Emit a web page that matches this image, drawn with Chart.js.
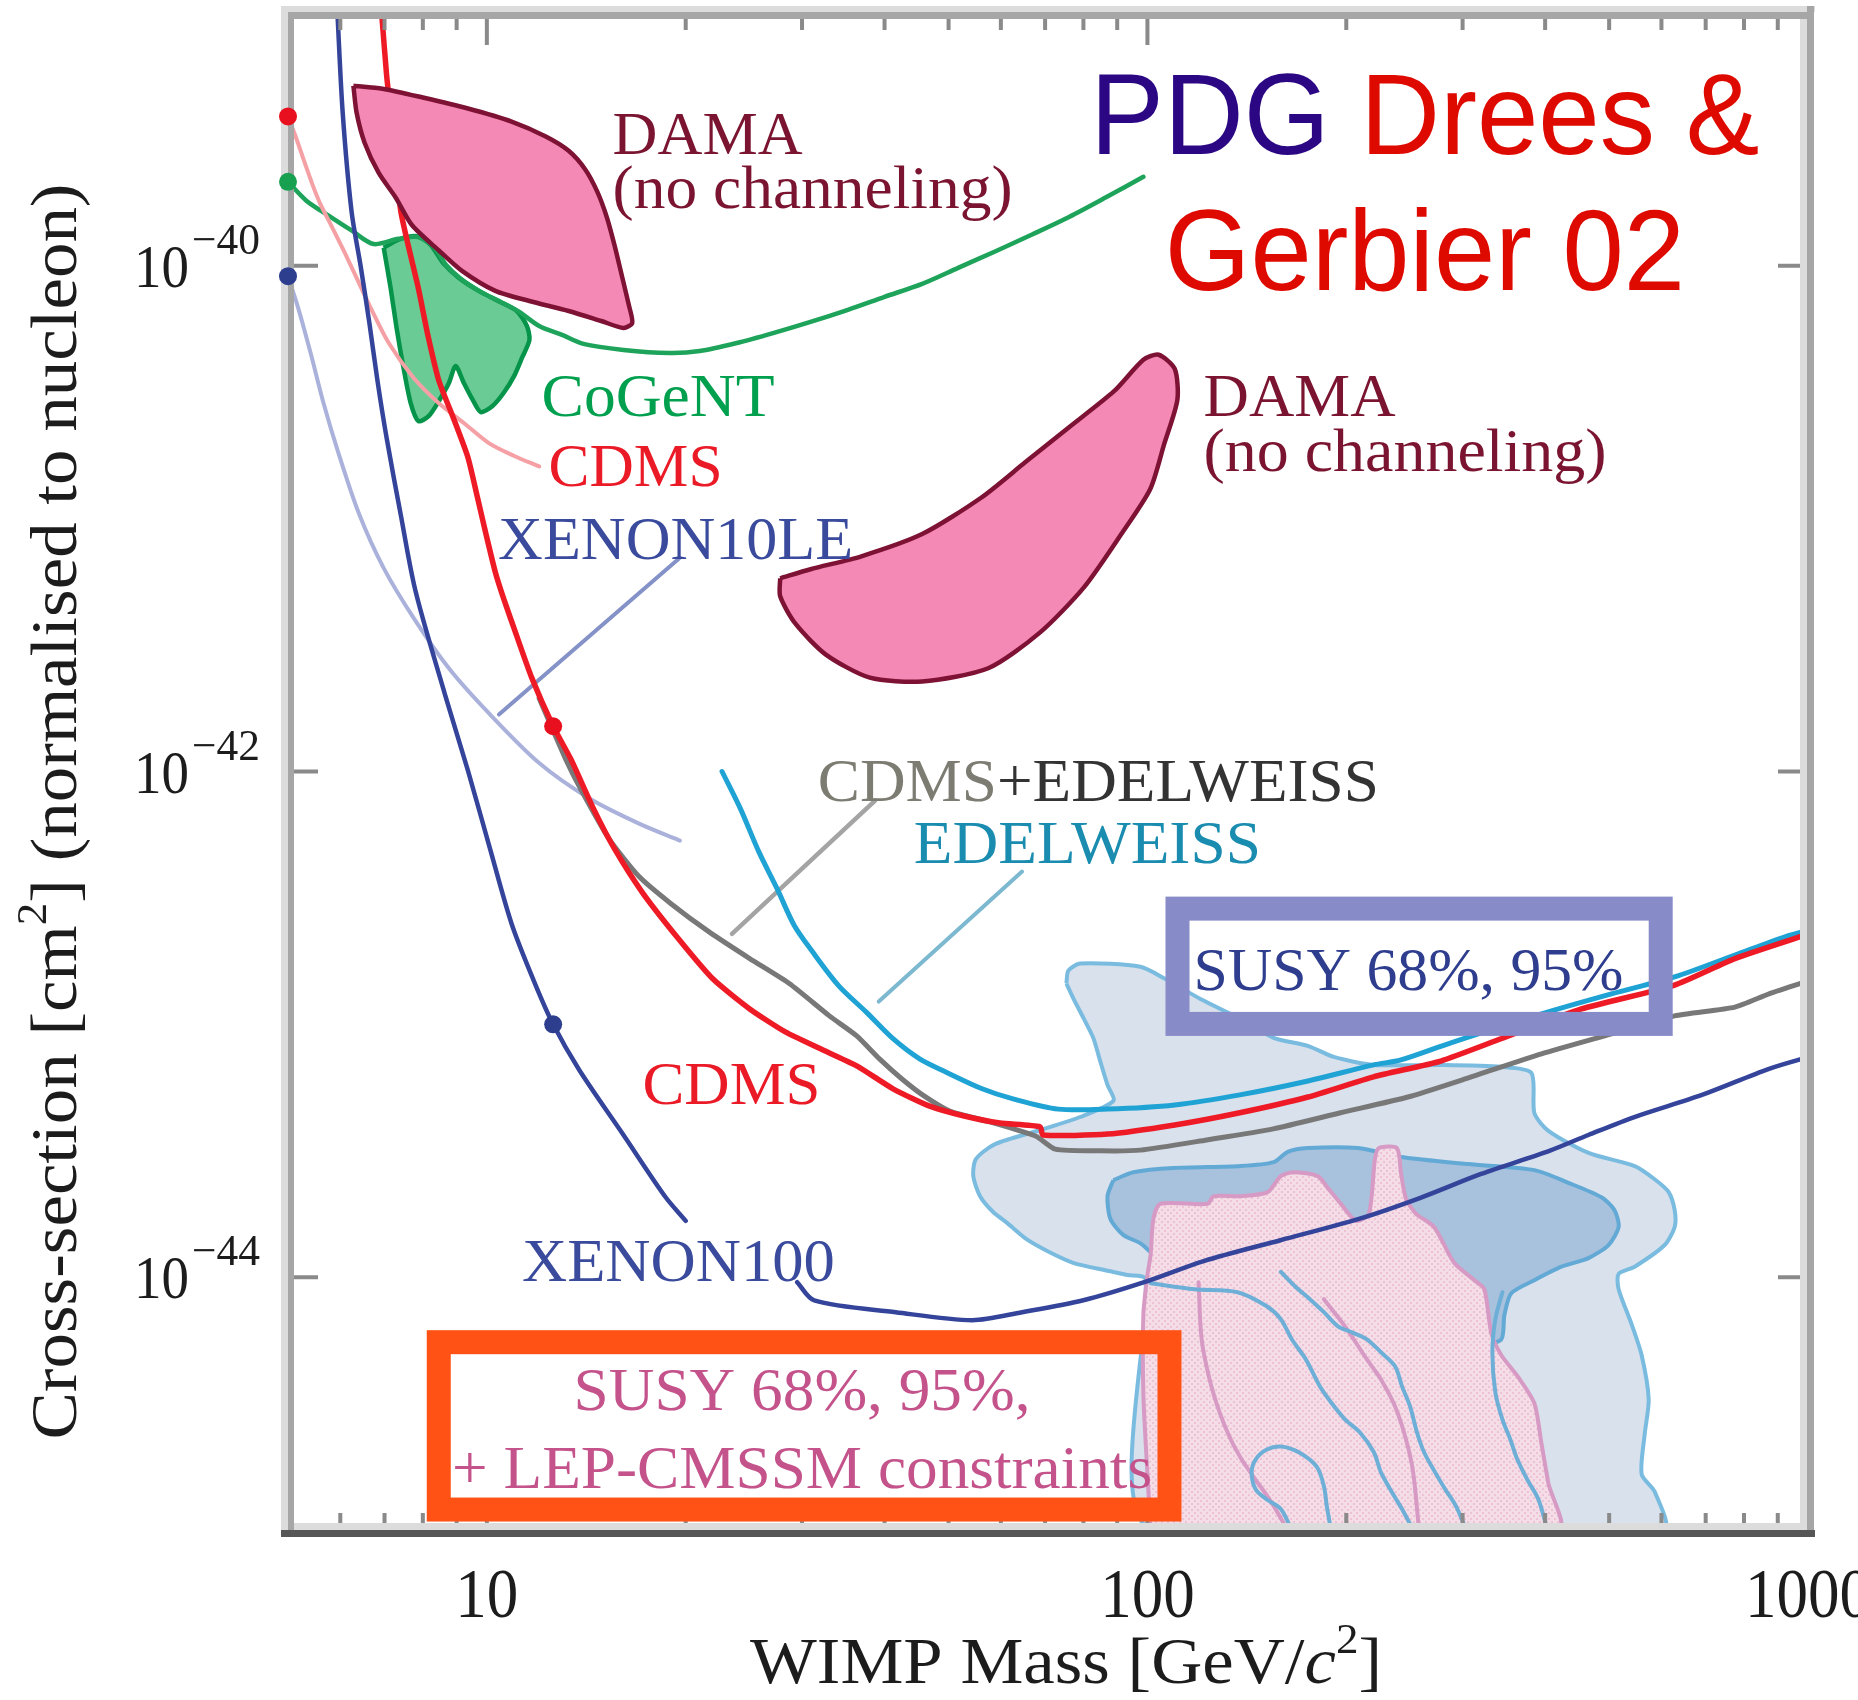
<!DOCTYPE html>
<html>
<head>
<meta charset="utf-8">
<script src="https://cdn.jsdelivr.net/npm/chart.js@4.4.1/dist/chart.umd.min.js"></script>
<style>
  html, body { margin: 0; padding: 0; background: #ffffff; }
  canvas { display: block; }
</style>
</head>
<body>
<canvas id="c" width="1858" height="1700"></canvas>
<script>
// ---- Axis ticks ----
const X_TICK_LABELS = [10, 100, 1000];
const Y_TICK_EXPONENTS = [-40, -42, -44];

// ---- Exclusion limits: [WIMP mass (GeV), cross-section (cm^2)] ----
const xenon100Upper = [[5.94,1.0e-39],[6.05,4.04e-40],[6.24,1.64e-40],[6.44,1.0e-40],[6.64,5.94e-41],[6.83,3.51e-41],[7.05,2.09e-41],[7.41,1.03e-41],[7.80,5.16e-42],[8.64,2.02e-42],[9.36,1.01e-42],[10.1,5.0e-43],[10.9,2.50e-43],[11.8,1.47e-43],[12.6,1.0e-43],[13.8,6.6e-44],[16.1,3.65e-44],[18.6,2.09e-44],[20.0,1.67e-44]];
const xenon100Lower = [[29.5,9.55e-45],[31.3,8.1e-45],[41.6,7.27e-45],[54.3,6.76e-45],[64.6,7.27e-45],[80.0,8.1e-45],[98.9,9.55e-45],[122,1.16e-44],[159,1.40e-44],[209,1.70e-44],[259,2.06e-44],[320,2.56e-44],[406,3.16e-44],[465,3.65e-44],[546,4.30e-44],[691,5.26e-44],[873,6.67e-44],[1014,7.50e-44]];
const xenon10LE = [[5.0,9.1e-41],[5.18,6.82e-41],[5.41,4.52e-41],[5.66,2.86e-41],[5.96,1.82e-41],[6.40,1.05e-41],[6.98,6.37e-42],[7.75,4.04e-42],[8.76,2.56e-42],[10.07,1.70e-42],[12.0,1.08e-42],[14.3,7.82e-43],[17.0,6.22e-43],[19.6,5.33e-43]];
const cdms = [[6.93,1e-39],[7.05,5.70e-40],[7.17,3.78e-40],[7.41,1.64e-40],[7.88,8.11e-41],[8.14,5.33e-41],[8.46,3.51e-41],[8.91,2.48e-41],[9.36,1.75e-41],[9.66,1.24e-41],[9.97,8.69e-42],[10.3,6.14e-42],[10.6,4.84e-42],[11.1,3.43e-42],[11.7,2.34e-42],[12.6,1.51e-42],[13.4,1.12e-42],[14.5,7.13e-43],[15.6,4.95e-43],[17.2,3.32e-43],[19.5,2.18e-43],[22.0,1.51e-43],[25.0,1.15e-43],[28.3,9.33e-44],[32.0,8.0e-44],[36.3,6.85e-44],[41.2,5.56e-44],[46.7,4.76e-44],[52.8,4.34e-44],[59.8,4.07e-44],[68.8,3.93e-44],[69.5,3.65e-44],[87.0,3.68e-44],[110,4.0e-44],[138,4.47e-44],[175,5.16e-44],[220,6.2e-44],[278,7.16e-44],[343,8.77e-44],[454,1.15e-43],[628,1.43e-43],[775,1.82e-43],[1014,2.30e-43]];
const cdmsLowThreshold = [[5.0,3.89e-40],[5.13,3.27e-40],[5.28,2.63e-40],[5.44,2.11e-40],[5.60,1.75e-40],[5.84,1.41e-40],[6.07,1.15e-40],[6.35,8.96e-41],[6.67,6.82e-41],[7.10,4.96e-41],[7.75,3.6e-41],[8.46,2.86e-41],[9.23,2.39e-41],[10.07,1.99e-41],[11.0,1.77e-41],[12.0,1.61e-41]];
const cdmsEdelweiss = [[12.0,1.95e-42],[12.6,1.45e-42],[13.2,1.1e-42],[13.8,8.73e-43],[15.3,5.43e-43],[17.0,3.84e-43],[19.0,3.0e-43],[21.7,2.32e-43],[25.0,1.82e-43],[28.7,1.45e-43],[33.0,1.08e-43],[36.3,9.0e-44],[39.3,7.3e-44],[42.5,6.08e-44],[45.9,5.21e-44],[50.2,4.54e-44],[57.8,4.11e-44],[67.8,3.61e-44],[72.5,3.21e-44],[84.9,3.16e-44],[97.6,3.18e-44],[123,3.49e-44],[155,3.86e-44],[196,4.47e-44],[248,5.16e-44],[306,6.14e-44],[395,7.64e-44],[504,9.16e-44],[628,1.08e-43],[775,1.17e-43],[873,1.32e-43],[1014,1.50e-43]];
const edelweiss = [[22.7,1.0e-42],[24.2,7.13e-43],[25.8,4.82e-43],[27.5,3.44e-43],[29.2,2.46e-43],[31.1,1.94e-43],[34.1,1.42e-43],[37.5,1.12e-43],[41.2,8.77e-44],[45.2,7.3e-44],[49.5,6.48e-44],[56.2,5.56e-44],[62.6,5.07e-44],[73.3,4.62e-44],[87.0,4.62e-44],[110,4.8e-44],[138,5.26e-44],[175,5.97e-44],[220,6.91e-44],[242,7.23e-44],[288,8.45e-44],[395,1.10e-43],[504,1.32e-43],[628,1.54e-43],[775,1.88e-43],[923,2.22e-43],[1014,2.37e-43]];
const cogentLimit = [[5.0,2.15e-40],[5.33,1.81e-40],[5.76,1.58e-40],[6.24,1.38e-40],[6.74,1.22e-40],[7.35,1.28e-40],[7.88,1.30e-40],[8.31,1.19e-40],[8.67,1.01e-40],[9.13,8.89e-41],[9.79,7.89e-41],[10.5,7.20e-41],[11.2,6.57e-41],[12.0,5.78e-41],[13.0,5.33e-41],[14.0,4.91e-41],[16.1,4.65e-41],[18.9,4.52e-41],[21.0,4.60e-41],[23.9,4.95e-41],[27.2,5.43e-41],[30.9,6.0e-41],[35.2,6.70e-41],[40.0,7.54e-41],[45.6,8.49e-41],[51.7,9.82e-41],[58.8,1.14e-40],[66.9,1.33e-40],[76.1,1.56e-40],[86.7,1.87e-40],[98.6,2.25e-40]];

// ---- Signal regions ----
const cogentRegion = [[6.98,1.18e-40],[7.35,1.27e-40],[7.83,1.31e-40],[8.22,1.21e-40],[8.60,1.02e-40],[9.07,8.96e-41],[9.72,7.96e-41],[10.4,7.26e-41],[11.1,6.63e-41],[11.5,5.78e-41],[11.6,5.09e-41],[11.3,4.32e-41],[11.0,3.67e-41],[10.6,3.14e-41],[10.2,2.79e-41],[9.79,2.64e-41],[9.52,2.95e-41],[9.23,3.44e-41],[8.97,4.02e-41],[8.76,3.44e-41],[8.46,2.92e-41],[8.17,2.55e-41],[7.88,2.43e-41],[7.67,2.86e-41],[7.48,3.94e-41],[7.30,5.68e-41],[7.15,8.18e-41]];
const damaLowMass = [[6.28,5.16e-40],[6.95,5.02e-40],[8.0,4.63e-40],[9.36,4.19e-40],[10.9,3.72e-40],[12.3,3.24e-40],[13.3,2.85e-40],[14.1,2.40e-40],[14.7,1.96e-40],[15.2,1.55e-40],[15.6,1.21e-40],[16.0,9.2e-41],[16.4,7.01e-41],[16.6,5.94e-41],[16.1,5.68e-41],[14.9,6.05e-41],[13.3,6.63e-41],[11.6,7.26e-41],[10.3,7.96e-41],[9.17,9.55e-41],[8.46,1.15e-40],[7.70,1.45e-40],[7.28,1.86e-40],[6.86,2.33e-40],[6.53,3.07e-40],[6.35,4.04e-40]];
const damaHighMass = [[27.8,5.81e-42],[30.9,6.31e-42],[36.9,7.1e-42],[45.6,8.69e-42],[56.0,1.21e-41],[65.3,1.67e-41],[76.1,2.30e-41],[89.1,3.20e-41],[98.6,4.25e-41],[104,4.45e-41],[110,3.91e-41],[111,2.95e-41],[106,1.97e-41],[101,1.31e-41],[91.3,8.69e-42],[80.2,5.36e-42],[68.8,3.55e-42],[57.4,2.56e-42],[45.6,2.27e-42],[38.0,2.35e-42],[32.6,2.90e-42],[29.3,3.85e-42],[27.8,4.93e-42]];
const susy95 = [[75.4,1.45e-43],[75.9,1.63e-43],[79.1,1.74e-43],[97.6,1.69e-43],[106.5,1.51e-43],[120.3,1.26e-43],[138.4,1.05e-43],[155.3,8.84e-44],[174.9,8.22e-44],[191.5,7.43e-44],[220.2,6.91e-44],[278.3,6.91e-44],[343.4,6.79e-44],[381.3,6.43e-44],[385.3,4.46e-44],[404.6,3.79e-44],[465.3,3.10e-44],[546.6,2.75e-44],[585.9,2.44e-44],[615.3,2.17e-44],[628.3,1.84e-44],[628.3,1.58e-44],[606.7,1.34e-44],[546.6,1.10e-44],[516.8,1.03e-44],[516.8,8.96e-45],[540.8,6.51e-45],[560.0,4.91e-45],[573.9,3.29e-45],[565.9,2.39e-45],[560.0,1.66e-45],[585.9,1.42e-45],[604.6,1.0e-45],[101.1,1.0e-45],[99.3,9.82e-45],[93.3,1.02e-44],[87.0,1.06e-44],[77.2,1.14e-44],[70.5,1.27e-44],[65.7,1.41e-44],[61.3,1.64e-44],[58.4,1.81e-44],[55.8,2.09e-44],[54.5,2.51e-44],[55.0,2.93e-44],[58.8,3.36e-44],[68.8,3.82e-44],[79.1,4.30e-44],[88.8,4.98e-44],[87.0,5.76e-44],[84.8,7.17e-44],[82.8,8.84e-44],[80.0,1.06e-43],[77.2,1.27e-43]];
const susy68 = [[88.8,2.42e-44],[95.2,2.60e-44],[109.5,2.70e-44],[138.4,2.75e-44],[155.3,2.85e-44],[163.1,3.13e-44],[174.9,3.24e-44],[208.3,3.24e-44],[242.1,2.99e-44],[305.9,2.80e-44],[385.3,2.65e-44],[433.9,2.36e-44],[486.9,2.07e-44],[509.5,1.84e-44],[516.8,1.58e-44],[498.9,1.34e-44],[465.3,1.19e-44],[423.5,1.10e-44],[385.3,9.73e-45],[355.5,8.64e-45],[347.0,7.07e-45],[343.4,5.68e-45],[320.2,5.43e-45],[104.6,1.18e-44],[97.6,1.36e-44],[91.9,1.47e-44],[87.9,1.70e-44],[87.0,2.09e-44]];
const susyLep = [[101.1,1e-45],[100.0,1.67e-45],[98.6,3.44e-45],[98.6,7.14e-45],[100.0,1.02e-44],[101.1,1.22e-44],[102.1,1.70e-44],[104.6,1.95e-44],[123.3,1.95e-44],[126.0,2.09e-44],[138.4,2.09e-44],[152.1,2.17e-44],[159.2,2.51e-44],[166.6,2.60e-44],[181.1,2.51e-44],[187.6,2.25e-44],[196.3,1.95e-44],[206.8,1.67e-44],[216.4,1.78e-44],[221.0,2.93e-44],[224.1,3.24e-44],[238.6,3.24e-44],[242.1,2.56e-44],[246.3,2.04e-44],[255.1,1.78e-44],[271.6,1.58e-44],[291.3,1.14e-44],[312.5,9.73e-45],[323.6,8.96e-45],[331.6,6.0e-45],[343.4,4.91e-45],[364.3,4.02e-45],[385.3,3.17e-45],[394.9,2.20e-45],[404.6,1.53e-45],[419.0,1e-45]];
const susyContourA = [[101.1,9.47e-45],[117.9,8.96e-45],[136.9,8.72e-45],[151.6,7.67e-45],[159.2,6.82e-45],[165.4,5.68e-45],[173.7,4.73e-45],[182.4,3.70e-45],[189.6,3.20e-45],[199.1,2.74e-45],[209.8,2.43e-45],[220.2,2.03e-45],[225.7,1.69e-45],[234.5,1.41e-45],[242.9,1.21e-45],[252.5,1.0e-45]];
const susyContourB = [[159.2,1.05e-44],[167.2,9.21e-45],[176.2,8.18e-45],[185.0,7.27e-45],[194.3,6.39e-45],[204.1,6.05e-45],[214.9,5.68e-45],[225.7,5.05e-45],[237.1,4.44e-45],[242.9,3.70e-45],[249.8,3.08e-45],[255.9,2.43e-45],[262.3,2.03e-45],[272.6,1.69e-45],[282.3,1.45e-45],[293.3,1.24e-45],[303.8,1.0e-45]];
const susyContourC = [[344.6,8.72e-45],[336.3,6.82e-45],[332.8,5.05e-45],[336.3,3.50e-45],[344.6,2.74e-45],[354.3,2.28e-45],[363.1,1.90e-45],[376.0,1.58e-45],[390.8,1.32e-45],[403.2,1.0e-45]];
const susyContourLoop = [[165.4,1e-45],[159.2,1.21e-45],[151.6,1.32e-45],[145.8,1.45e-45],[143.8,1.69e-45],[145.8,1.90e-45],[151.6,2.08e-45],[159.2,2.14e-45],[169.5,2.03e-45],[180.4,1.78e-45],[185.0,1.49e-45],[186.9,1.24e-45],[189.6,1e-45]];
const lepContourA = [[119.5,9.55e-45],[120.8,5.68e-45],[124.2,3.94e-45],[128.6,2.92e-45],[133.7,2.28e-45],[138.9,1.90e-45],[145.8,1.58e-45],[153.1,1.32e-45],[163.1,1e-45]];
const lepContourB = [[185.0,8.18e-45],[199.1,6.39e-45],[214.9,4.73e-45],[225.7,3.94e-45],[237.1,3.08e-45],[246.3,2.28e-45],[252.5,1.69e-45],[257.7,1e-45]];

// ---- Marker points and label leader lines ----
const markerPoints = [[5.0,3.9e-40],[5.0,2.15e-40],[5.0,9.1e-41],[12.6,1.51e-42],[12.6,1.0e-43]];
const markerColors = ['#e8101e','#17a04f','#2e3e8e','#e8101e','#2e3e8e'];
const leaderXenon10LE = [[10.43,1.68e-42],[19.56,6.98e-42]];
const leaderCombined = [[23.5,2.28e-43],[38.7,7.67e-43]];
const leaderEdelweiss = [[39.2,1.23e-43],[64.6,4.02e-43]];

// ---- In-plot annotations ----
const noteText = [['DAMA'],['(no channeling)'],['DAMA'],['(no channeling)'],['CoGeNT'],['CDMS'],['XENON10LE'],['CDMS','+EDELWEISS'],['EDELWEISS'],['CDMS'],['XENON100']];
const noteMass = [15.5, 15.5, 121.6, 121.6, 12.1, 12.4, 10.4, 31.7, 44.3, 17.2, 11.3];
const noteSigma = [2.78e-40, 1.70e-40, 2.55e-41, 1.54e-41, 2.55e-41, 1.35e-41, 6.92e-42, 7.67e-43, 4.33e-43, 4.84e-44, 9.64e-45];
const noteColor = [['#7a1430'],['#7a1430'],['#7a1430'],['#7a1430'],['#00a04e'],['#ea1a26'],['#3a4a9c'],['#7c7c72','#333333'],['#1a8cb0'],['#ea1a26'],['#3a4a9c']];
const noteWidth = [190, 400, 192, 403, 233, 174, 355, 561, 347, 178, 313];

const susyBoxMass = [106.5, 624];
const susyBoxSigma = [3.20e-43, 9.0e-44];
const susyBoxText = 'SUSY 68%, 95%';
const susyBoxTextAt = [117.4, 1.37e-43];

const lepBoxMass = [8.11, 112.6];
const lepBoxSigma = [6.17e-45, 1.08e-45];
const lepBoxLines = ['SUSY 68%, 95%,', '+ LEP-CMSSM constraints'];
const lepBoxLineAt = [[30.0, 2.97e-45], [30.0, 1.47e-45]];

const headline = [[['PDG ', '#2b0784'], ['Drees &', '#de0a00']], [['Gerbier 02', '#de0a00']]];
const headlineAt = [[263, 2.78e-40], [263, 8.03e-41]];

const SERIF = '"Liberation Serif", "Times New Roman", Times, serif';
const SANS = '"Liberation Sans", Arial, Helvetica, sans-serif';

// ---- helpers ----
const pts = arr => arr.map(([x, y]) => ({ x, y }));
const closed = arr => pts(arr.concat([arr[0]]));

function curve(label, arr, color, width, order, extra) {
  return Object.assign({
    label, data: pts(arr), borderColor: color, borderWidth: width, order,
    showLine: true, pointRadius: 0, pointHoverRadius: 0, fill: false, tension: 0.3,
    borderCapStyle: 'round', borderJoinStyle: 'round'
  }, extra || {});
}
function area(label, arr, fillStyle, edge, width, order) {
  return {
    label, data: closed(arr), backgroundColor: fillStyle, borderColor: edge, borderWidth: width, order,
    showLine: true, pointRadius: 0, pointHoverRadius: 0, fill: 'shape', tension: 0.25,
    borderJoinStyle: 'round'
  };
}

const canvas = document.getElementById('c');
const baseCtx = canvas.getContext('2d');

// stippled pink fill for the LEP-constrained region
const tile = document.createElement('canvas');
tile.width = 6; tile.height = 6;
const tg = tile.getContext('2d');
tg.fillStyle = '#f5dde7'; tg.fillRect(0, 0, 6, 6);
tg.fillStyle = '#ecc2d4'; tg.fillRect(0, 0, 2, 2); tg.fillRect(3, 3, 2, 2);
const lepPattern = baseCtx.createPattern(tile, 'repeat');

// text drawn with a horizontal squeeze to a target width
function rich(ctx, parts, x, y, align, width, rot) {
  ctx.save();
  let total = 0;
  parts.forEach(p => { ctx.font = p.font; p.w = ctx.measureText(p.t).width; total += p.w; });
  const k = width ? width / total : 1;
  ctx.translate(x, y);
  if (rot) ctx.rotate(rot);
  ctx.scale(k, 1);
  let cx = align === 'center' ? -total / 2 : align === 'right' ? -total : 0;
  ctx.textAlign = 'left';
  ctx.textBaseline = 'alphabetic';
  parts.forEach(p => {
    ctx.font = p.font; ctx.fillStyle = p.color || '#1c1c1c';
    ctx.fillText(p.t, cx, p.dy || 0);
    cx += p.w;
  });
  ctx.restore();
}

function drawFrame(chart) {
  const { ctx, chartArea: a, scales: { x, y } } = chart;
  const L = a.left, R = a.right, T = a.top, B = a.bottom;
  ctx.save();
  ctx.strokeStyle = '#8a8a8a';
  ctx.lineWidth = 4;
  for (let d = 1; d <= 100; d *= 10) {
    for (let k = 1; k <= 9; k++) {
      const v = k * d;
      if (v <= 5 || v >= 1000) continue;
      const px = x.getPixelForValue(v);
      const len = k === 1 ? 32 : 17;
      ctx.beginPath();
      ctx.moveTo(px, B); ctx.lineTo(px, B - len);
      ctx.moveTo(px, T); ctx.lineTo(px, T + len);
      ctx.stroke();
    }
  }
  Y_TICK_EXPONENTS.forEach(e => {
    const py = y.getPixelForValue(Math.pow(10, e));
    ctx.beginPath();
    ctx.moveTo(L, py); ctx.lineTo(L + 30, py);
    ctx.moveTo(R, py); ctx.lineTo(R - 30, py);
    ctx.stroke();
  });
  ctx.fillStyle = '#dcdcdc';
  ctx.fillRect(L - 7, T - 7, 7, B - T + 14);
  ctx.fillRect(L - 7, T - 7, R - L + 14, 6);
  ctx.fillRect(R - 8, T, 7, B - T);
  ctx.fillRect(L, B - 7, R - L, 7);
  ctx.fillStyle = '#a6a6a6';
  ctx.fillRect(L, T - 1, 6, B - T + 1);
  ctx.fillRect(L, T - 1, R - L, 7);
  ctx.fillRect(R - 1, T - 7, 7, B - T + 14);
  ctx.fillStyle = '#565656';
  ctx.fillRect(L - 7, B, R - L + 14, 7);
  ctx.restore();
}

function boxAt(ctx, x, y, mPair, sPair, color, lw) {
  const x1 = x.getPixelForValue(mPair[0]), x2 = x.getPixelForValue(mPair[1]);
  const y1 = y.getPixelForValue(sPair[0]), y2 = y.getPixelForValue(sPair[1]);
  ctx.save();
  ctx.strokeStyle = color; ctx.lineWidth = lw; ctx.lineJoin = 'miter';
  ctx.strokeRect(x1 + lw / 2, y1 + lw / 2, (x2 - x1) - lw, (y2 - y1) - lw);
  ctx.restore();
}

const decor = {
  id: 'decor',
  beforeDatasetDraw(chart, args) {
    if (chart.data.datasets[args.index].label === 'markers') drawFrame(chart);
  },
  afterDatasetsDraw(chart) {
    const { ctx, chartArea: a, scales: { x, y } } = chart;

    // labels beside curves and regions
    noteText.forEach((parts, i) => {
      rich(ctx, parts.map((t, j) => ({ t, font: '62px ' + SERIF, color: noteColor[i][j] })),
        x.getPixelForValue(noteMass[i]), y.getPixelForValue(noteSigma[i]), 'left', noteWidth[i]);
    });

    // framed legends
    boxAt(ctx, x, y, susyBoxMass, susyBoxSigma, '#878bc8', 24);
    rich(ctx, [{ t: susyBoxText, font: '62px ' + SERIF, color: '#2e3d8e' }],
      x.getPixelForValue(susyBoxTextAt[0]), y.getPixelForValue(susyBoxTextAt[1]), 'left', 430);
    boxAt(ctx, x, y, lepBoxMass, lepBoxSigma, '#ff5214', 24);
    lepBoxLines.forEach((t, i) => {
      rich(ctx, [{ t, font: '62px ' + SERIF, color: '#c4528b' }],
        x.getPixelForValue(lepBoxLineAt[i][0]), y.getPixelForValue(lepBoxLineAt[i][1]), 'center', i === 0 ? 457 : 700);
    });

    // headline
    headline.forEach((line, i) => {
      rich(ctx, line.map(([t, c]) => ({ t, font: '115px ' + SANS, color: c })),
        x.getPixelForValue(headlineAt[i][0]), y.getPixelForValue(headlineAt[i][1]), 'center', i === 0 ? 669 : 520);
    });

    // tick labels
    X_TICK_LABELS.forEach(v => {
      rich(ctx, [{ t: String(v), font: '70px ' + SERIF, color: '#1c1c1c' }],
        x.getPixelForValue(v), 1617, 'center', String(v).length * 31.5);
    });
    Y_TICK_EXPONENTS.forEach(e => {
      const py = y.getPixelForValue(Math.pow(10, e));
      rich(ctx, [{ t: '10', font: '62px ' + SERIF, color: '#1c1c1c' }], a.left - 99, py + 21, 'right', 55);
      rich(ctx, [{ t: '\u2212' + (-e), font: '44px ' + SERIF, color: '#1c1c1c' }], a.left - 96, py - 12, 'left', 68);
    });

    // axis titles
    rich(ctx, [
      { t: 'WIMP Mass [GeV/', font: '66px ' + SERIF },
      { t: 'c', font: 'italic 66px ' + SERIF },
      { t: '2', font: '42px ' + SERIF, dy: -30 },
      { t: ']', font: '66px ' + SERIF }
    ], (a.left + a.right) / 2 + 18, 1683, 'center', 632);
    rich(ctx, [
      { t: 'Cross-section [cm', font: '66px ' + SERIF },
      { t: '2', font: '42px ' + SERIF, dy: -30 },
      { t: '] (normalised to nucleon)', font: '66px ' + SERIF }
    ], 76, (a.top + a.bottom) / 2 + 40, 'center', 1256, -Math.PI / 2);
  }
};

const datasets = [
  { label: 'markers', data: pts(markerPoints), showLine: false, pointRadius: 9, pointHoverRadius: 9,
    pointBackgroundColor: markerColors, pointBorderWidth: 0, clip: false, order: 0 },
  area('DAMA low', damaLowMass, '#f589b5', '#7d1234', 4.5, 1),
  area('DAMA high', damaHighMass, '#f589b5', '#7d1234', 4.5, 1),
  curve('XENON100 upper', xenon100Upper, '#34449a', 4.5, 2),
  curve('XENON100 lower', xenon100Lower, '#34449a', 4.5, 2),
  curve('CDMS', cdms, '#ee1b26', 5.5, 3, { tension: 0.2 }),
  curve('EDELWEISS', edelweiss, '#1fa2d4', 5, 4),
  curve('CDMS+EDELWEISS', cdmsEdelweiss, '#787878', 5, 5, { tension: 0.2 }),
  curve('XENON10LE', xenon10LE, '#aab2dc', 4, 6),
  curve('CDMS low threshold', cdmsLowThreshold, '#f5a0a5', 4, 6),
  curve('leader XENON10LE', leaderXenon10LE, '#8592c8', 4, 6, { tension: 0 }),
  curve('leader CDMS+EDELWEISS', leaderCombined, '#a4a4a4', 4.5, 6, { tension: 0 }),
  curve('leader EDELWEISS', leaderEdelweiss, '#7cb8d0', 4, 6, { tension: 0 }),
  curve('CoGeNT limit', cogentLimit, '#1ea35a', 4.5, 7),
  area('CoGeNT', cogentRegion, '#6acb95', '#06944a', 4.5, 8),
  curve('contour A', susyContourA, '#6eafd8', 4, 9),
  curve('contour B', susyContourB, '#6eafd8', 4, 9),
  curve('contour C', susyContourC, '#6eafd8', 4, 9),
  curve('contour loop', susyContourLoop, '#6eafd8', 4, 9),
  curve('LEP contour A', lepContourA, '#d69ac4', 4, 9),
  curve('LEP contour B', lepContourB, '#d69ac4', 4, 9),
  area('SUSY + LEP', susyLep, lepPattern, '#d69ac4', 4, 10),
  area('SUSY 68%', susy68, '#a8c1dd', '#62a9d5', 4, 11),
  area('SUSY 95%', susy95, '#d9e1ec', '#7abbe0', 4, 12)
];

new Chart(canvas, {
  type: 'scatter',
  data: { datasets },
  options: {
    responsive: false,
    animation: false,
    devicePixelRatio: 1,
    events: [],
    layout: { padding: { top: 13, right: 50, left: 0, bottom: 0 } },
    plugins: { legend: { display: false }, tooltip: { enabled: false }, title: { display: false } },
    scales: {
      x: {
        type: 'logarithmic', min: 5, max: 1000, position: 'bottom',
        grid: { display: false }, border: { display: false }, ticks: { display: false },
        afterFit(s) { s.height = 170; }
      },
      y: {
        type: 'logarithmic', min: 1e-45, max: 1e-39, position: 'left',
        grid: { display: false }, border: { display: false }, ticks: { display: false },
        afterFit(s) { s.width = 288; }
      }
    }
  },
  plugins: [decor]
});
</script>
</body>
</html>
